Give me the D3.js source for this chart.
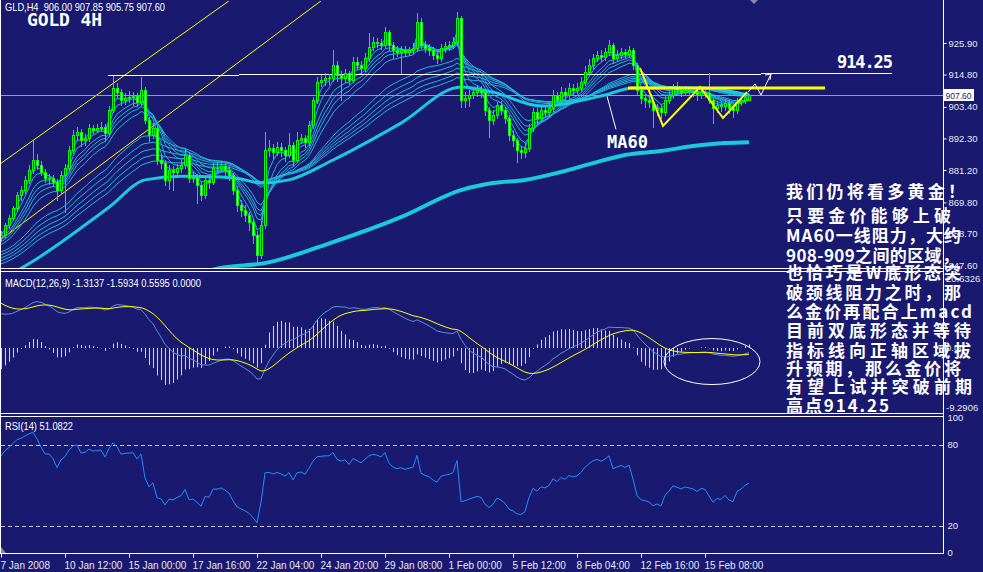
<!DOCTYPE html>
<html><head><meta charset="utf-8">
<script src="https://cdn.jsdelivr.net/npm/d3@7/dist/d3.min.js"></script>
<style>html,body{margin:0;padding:0;background:#191970;overflow:hidden}svg{display:block}</style>
</head><body>
<svg id="chart" width="983" height="572"></svg>
<script>
// ---------------- DATA (GOLD, H4 bars) ----------------
const opens=[857.5,858.3,861.8,864.3,867.8,872.4,874.1,877.7,881.2,884.7,
882.9,880.5,878.4,878.4,877.0,874.1,879.4,881.9,888.2,893.5,
894.6,891.7,892.5,896.0,895.3,896.0,896.3,894.2,902.3,910.1,
908.6,905.8,906.5,906.9,907.2,905.1,909.4,898.8,893.5,896.0,
884.7,883.6,877.7,881.2,880.5,881.9,882.9,886.5,878.4,878.7,
875.9,872.4,877.7,877.0,881.9,881.9,882.6,881.2,879.4,874.1,
868.9,867.1,865.3,862.9,858.3,851.3,861.8,888.2,888.9,887.5,
889.3,888.2,886.5,890.0,884.7,891.7,892.5,891.0,897.0,905.8,
912.2,912.9,913.6,913.6,918.2,914.6,913.6,915.3,912.9,919.2,
918.2,917.1,920.6,924.5,926.3,925.9,925.2,929.8,925.2,923.4,
922.7,923.4,922.7,923.4,924.1,933.3,925.2,924.1,923.4,921.7,
920.6,924.1,924.8,925.2,926.3,934.7,905.8,906.5,907.6,908.6,
909.4,908.6,902.3,898.8,900.5,904.1,902.3,899.5,893.5,891.7,
888.2,887.5,888.9,896.0,901.6,899.5,902.3,901.6,903.0,907.6,
905.8,908.6,907.6,910.1,909.4,910.1,912.2,915.7,918.2,920.6,
921.7,921.0,922.7,925.2,920.6,921.7,922.7,922.0,923.4,918.2,
909.4,906.5,905.8,905.1,902.3,903.0,901.6,905.8,907.6,910.1,
909.4,908.6,909.4,909.0,908.6,907.6,908.6,908.3,905.8,903.0,
904.1,903.7,904.8,903.0,902.3,905.1,905.8,906.0];
const highs=[859.6,862.5,865.4,868.6,873.5,875.6,878.9,883.0,891.7,886.8,
884.3,881.6,879.8,879.6,878.0,880.7,883.2,889.8,895.3,896.4,
895.6,894.0,897.4,897.2,897.5,898.1,897.4,903.6,914.2,911.7,
909.6,908.3,909.0,908.6,908.4,913.9,910.3,899.9,897.8,897.0,
886.4,884.6,882.8,882.6,883.2,884.6,889.0,887.4,880.4,879.9,
877.0,879.0,879.3,883.5,883.7,884.2,883.6,882.5,880.3,875.4,
870.7,868.8,866.5,864.0,859.6,863.2,894.5,891.8,890.3,891.1,
890.6,889.3,894.2,891.0,894.5,893.9,893.6,898.4,907.0,913.9,
914.6,915.3,915.1,923.4,919.4,916.0,916.9,916.1,920.8,920.9,
919.5,922.3,929.4,927.9,927.6,927.3,931.4,930.6,926.4,924.9,
925.0,924.8,924.6,925.9,936.5,934.6,926.6,925.5,924.5,923.0,
925.4,926.2,926.6,928.0,936.8,935.5,908.6,909.2,910.4,911.1,
910.8,909.6,903.4,902.2,905.3,905.6,903.4,900.4,894.8,892.6,
889.8,890.6,897.5,903.1,902.9,903.9,904.0,904.6,909.3,908.7,
910.4,909.9,911.9,911.4,911.8,914.1,917.8,920.3,922.2,923.2,
923.3,924.2,927.0,926.0,923.6,924.0,923.9,924.9,924.3,919.0,
910.6,908.0,907.1,906.0,904.4,904.2,907.2,909.2,911.6,912.2,
910.8,910.9,910.6,910.3,909.6,910.0,909.9,915.3,906.7,905.6,
905.5,906.2,905.9,904.0,906.4,907.0,907.9,907.85];
const lows=[856.6,857.6,860.9,863.5,866.9,870.8,873.0,876.5,880.1,881.6,
879.3,877.0,876.3,875.5,870.6,872.9,866.3,880.9,887.2,891.9,
889.6,889.9,891.5,894.1,894.4,894.8,891.5,893.3,901.5,906.9,
903.9,904.4,905.2,904.1,903.6,904.0,897.6,891.3,892.4,883.2,
882.0,875.8,874.5,874.1,879.2,880.6,881.8,876.8,876.9,869.6,
870.6,871.3,874.8,876.1,880.4,880.8,879.5,877.6,872.6,866.8,
865.0,863.3,860.2,855.6,848.8,850.2,860.9,886.1,885.4,886.3,
886.0,884.2,885.6,882.6,883.9,890.6,889.4,890.1,895.9,904.7,
910.8,911.2,911.5,912.5,912.6,905.8,912.1,911.3,912.0,916.6,
915.4,916.2,919.6,923.5,924.6,923.9,924.4,923.5,920.6,921.3,
915.3,921.2,921.6,922.3,923.0,924.0,922.6,921.8,920.3,918.8,
919.5,922.9,923.6,924.2,925.3,903.4,903.3,903.7,906.4,907.3,
906.9,900.6,892.8,897.3,899.4,900.8,897.6,891.8,889.7,884.0,
885.3,885.8,887.8,894.9,897.8,898.3,899.9,900.3,902.1,903.8,
904.7,905.9,906.5,907.9,908.3,909.0,911.0,914.5,916.9,919.4,
919.6,920.0,921.6,918.7,919.4,920.5,920.8,920.9,916.7,907.6,
904.6,903.5,903.2,896.3,900.6,899.5,900.5,904.6,906.6,907.8,
907.2,907.5,907.7,907.1,906.0,906.5,906.8,904.6,897.7,901.6,
901.9,902.4,901.2,899.8,901.4,904.0,904.9,905.75];
const closes=[858.3,861.8,864.3,867.8,872.4,874.1,877.7,881.2,884.7,882.9,
880.5,878.4,878.4,877.0,874.1,879.4,881.9,888.2,893.5,894.6,
891.7,892.5,896.0,895.3,896.0,896.3,894.2,902.3,910.1,908.6,
905.8,906.5,906.9,907.2,905.1,909.4,898.8,893.5,896.0,884.7,
883.6,877.7,881.2,880.5,881.9,882.9,886.5,878.4,878.7,875.9,
872.4,877.7,877.0,881.9,881.9,882.6,881.2,879.4,874.1,868.9,
867.1,865.3,862.9,858.3,851.3,861.8,888.2,888.9,887.5,889.3,
888.2,886.5,890.0,884.7,891.7,892.5,891.0,897.0,905.8,912.2,
912.9,913.6,913.6,918.2,914.6,913.6,915.3,912.9,919.2,918.2,
917.1,920.6,924.5,926.3,925.9,925.2,929.8,925.2,923.4,922.7,
923.4,922.7,923.4,924.1,933.3,925.2,924.1,923.4,921.7,920.6,
924.1,924.8,925.2,926.3,934.7,905.8,906.5,907.6,908.6,909.4,
908.6,902.3,898.8,900.5,904.1,902.3,899.5,893.5,891.7,888.2,
887.5,888.9,896.0,901.6,899.5,902.3,901.6,903.0,907.6,905.8,
908.6,907.6,910.1,909.4,910.1,912.2,915.7,918.2,920.6,921.7,
921.0,922.7,925.2,920.6,921.7,922.7,922.0,923.4,918.2,909.4,
906.5,905.8,905.1,902.3,903.0,901.6,905.8,907.6,910.1,909.4,
908.6,909.4,909.0,908.6,907.6,908.6,908.3,905.8,903.0,904.1,
903.7,904.8,903.0,902.3,905.1,905.8,906.9,907.6];

const priceTicks=[925.90,914.80,903.40,892.30,881.20,869.80,858.70,847.60];
const lastPrice=907.60;
const xTickBars=[0,16,32,48,64,80,96,112,128,144,160,176];
const xTickLabels=["7 Jan 2008","10 Jan 12:00","15 Jan 00:00","17 Jan 16:00","22 Jan 04:00","24 Jan 20:00","29 Jan 08:00","1 Feb 00:00","5 Feb 12:00","8 Feb 04:00","12 Feb 16:00","15 Feb 08:00"];

// moving averages: ribbon EMA periods + their values at the left edge
const emaPeriods=[3,5,8,10,12,15,30,35,40,45,50];
const emaSeeds=[859.0,858.3,857.2,856.5,855.5,854.4,851.9,850.9,849.8,848.8,847.7];
const ma60Bars=[0,5,27,36,45,55,60,65,72,83,100,115,123,135,151,158,175,187];
const ma60Vals=[843.0,846.6,868.1,877.7,879.0,878.7,878.0,876.6,877.7,884.7,897.7,910.4,908.6,903.7,907.6,910.1,910.1,907.6];
const longMaBars=[50,55,66,83,100,115,123,131,140,148,156,165,173,181,187];
const longMaVals=[845.0,846.7,848.4,855.8,864.6,874.1,876.6,877.7,880.5,883.6,886.5,887.9,889.6,890.7,891.0];

// MACD(12,26,9): EMA values at the left edge, histogram = 2*(MACD - signal)
const macdSeeds={ema12:855.3,ema26:847.0,signal:11.0};
const macdLabels=["20.6326","0.00","-9.2906"];
const rsiSeeds={gain:1.2,loss:0.5};
const rsiLevels=[80,20];
const rsiTicks=[100,80,20,0];

// annotations in (bar, price)
const channelUpper=[[-0.25,883.3],[57.25,941.0]];
const channelLower=[[-0.25,856.5],[80.25,941.0]];
const resistSegs=[[26.75,59.5,914.5],[59.5,190,915.1],[190,222.75,915.5]];
const neckline=[[156.75,910.1],[206,910.1]];
const wPattern=[[159.75,917.1],[165.5,896.7],[174.75,910.4],[180.5,899.5],[186.5,908.6]];
const arrowPath=[[186.75,908.6],[188.5,911.5],[190,907.6],[192.5,915.0]];
const arrowHead=[[191,914.6],[192.5,915.0],[192.25,912.9]];
const ma60Pointer=[[151.5,907.2],[153.75,895.5]];
const macdEllipse={bar:177.75,value:-3.2,rx:48,ry:23};

const noteLines=["我们仍将看多黄金！","只要金价能够上破","MA60一线阻力，大约","908-909之间的区域，","也恰巧是W底形态突","破颈线阻力之时，那","么金价再配合上macd","目前双底形态并等待","指标线向正轴区域拔","升预期，那么金价将","有望上试并突破前期","高点914.25"];
const noteWidths=[179,165,175,173,175,175,186,185,185,175,186,103];

// ---------------- SETUP ----------------
const W=983,H=572,RIGHT=943;
const BG="#191970",LIME="#00ff00",THIN="#22b4d8",THICK="#19c9dd";
const svg=d3.select("#chart");
svg.append("rect").attr("width",W).attr("height",H).attr("fill",BG);
const P={main:[1,268],macd:[272,413],rsi:[417,553]};
const x=d3.scaleLinear().domain([0,235]).range([1,941]);
const yMain=d3.scaleLinear().domain([847.6,925.9]).range([265.4,43.0]);
const yMacd=d3.scaleLinear().domain([-14,16]).range([408,279]);
const yRsi=d3.scaleLinear().domain([0,100]).range([552.7,417.7]);
const defs=svg.append("defs");
Object.entries(P).forEach(([k,[t,b]])=>{
  defs.append("clipPath").attr("id","clip-"+k).append("rect").attr("x",1).attr("y",t).attr("width",RIGHT-1).attr("height",b-t);
});
const gMain=svg.append("g").attr("clip-path","url(#clip-main)");
const gMacd=svg.append("g").attr("clip-path","url(#clip-macd)");
const gRsi=svg.append("g").attr("clip-path","url(#clip-rsi)");
const N=closes.length, idx=d3.range(N);
const ln=d3.line().x(d=>x(d[0])).y(d=>yMain(d[1]));

// ---------------- MAIN PANEL ----------------
[channelUpper,channelLower].forEach(l=>{
  gMain.append("path").attr("d",ln(l)).attr("stroke","#ffff00").attr("stroke-width",1).attr("fill","none");
});
gMain.append("path").datum(longMaBars.map((b,i)=>[b,longMaVals[i]]))
 .attr("d",d3.line().curve(d3.curveMonotoneX).x(d=>x(d[0])).y(d=>yMain(d[1])))
 .attr("stroke",THICK).attr("stroke-width",4).attr("fill","none");
emaPeriods.forEach((p,k)=>{
  const a=2/(p+1);let e=emaSeeds[k];
  const vals=closes.map(c=>(e=e+(c-e)*a));
  gMain.append("path").datum(vals).attr("d",d3.line().x((d,i)=>x(i)).y(d=>yMain(d)))
   .attr("stroke",THIN).attr("stroke-width",1).attr("fill","none");
});
gMain.append("path").datum(ma60Bars.map((b,i)=>[b,ma60Vals[i]]))
 .attr("d",d3.line().curve(d3.curveMonotoneX).x(d=>x(d[0])).y(d=>yMain(d[1])))
 .attr("stroke",THICK).attr("stroke-width",3).attr("fill","none");
const lpY=Math.round(yMain(lastPrice))+0.5;
gMain.append("line").attr("x1",1).attr("x2",RIGHT).attr("y1",lpY).attr("y2",lpY).attr("stroke","#9c9cac");
resistSegs.forEach(s=>{
  const yy=Math.round(yMain(s[2]))+0.5;
  gMain.append("line").attr("x1",x(s[0])).attr("x2",x(s[1])).attr("y1",yy).attr("y2",yy).attr("stroke","#ffffff");
});
const cg=gMain.append("g");
idx.forEach(i=>{
  const cx=Math.round(x(i));
  const o=opens[i],c=closes[i];
  const top=Math.round(yMain(Math.max(o,c))),bot=Math.round(yMain(Math.min(o,c)));
  cg.append("line").attr("x1",cx+0.5).attr("x2",cx+0.5).attr("y1",Math.round(yMain(highs[i]))).attr("y2",Math.round(yMain(lows[i]))+1).attr("stroke",LIME);
  cg.append("rect").attr("x",cx-1).attr("y",top).attr("width",3).attr("height",Math.max(1,bot-top+1)).attr("fill",LIME);
  if(bot-top>=2) cg.append("rect").attr("x",cx).attr("y",top+1).attr("width",1).attr("height",bot-top-1).attr("fill",c>=o?BG:"#ffffff");
});
gMain.append("path").attr("d",ln(neckline)).attr("stroke","#ffff00").attr("stroke-width",3);
gMain.append("path").attr("d",ln(wPattern)).attr("stroke","#ffff00").attr("stroke-width",2).attr("fill","none");
gMain.append("path").attr("d",ln(arrowPath)).attr("stroke","#ffffff").attr("stroke-width",1).attr("fill","none");
gMain.append("path").attr("d",ln(arrowHead)).attr("stroke","#ffffff").attr("stroke-width",1).attr("fill","none");
gMain.append("path").attr("d",ln(ma60Pointer)).attr("stroke","#ffffff").attr("stroke-width",1).attr("fill","none");

// ---------------- MACD ----------------
(function(){
  let e12=macdSeeds.ema12,e26=macdSeeds.ema26,sig=macdSeeds.signal;
  const main=[],signal=[],hist=[];
  closes.forEach(c=>{e12+=(c-e12)*2/13;e26+=(c-e26)*2/27;const m=e12-e26;main.push(m);sig+=(m-sig)*0.2;signal.push(sig);hist.push(2*(m-sig));});
  const z=Math.round(yMacd(0));
  idx.forEach(i=>{
    const cx=Math.round(x(i))+0.5;
    gMacd.append("line").attr("x1",cx).attr("x2",cx).attr("y1",z).attr("y2",yMacd(hist[i])).attr("stroke","#d4d4dc");
  });
  const ml=d3.line().x((d,i)=>x(i)).y(d=>yMacd(d));
  gMacd.append("path").datum(main).attr("d",ml).attr("stroke","#5b8fd6").attr("fill","none");
  gMacd.append("path").datum(signal).attr("d",ml).attr("stroke","#ffff00").attr("fill","none");
  gMacd.append("ellipse").attr("cx",x(macdEllipse.bar)).attr("cy",yMacd(macdEllipse.value)).attr("rx",macdEllipse.rx).attr("ry",macdEllipse.ry).attr("stroke","#ffffff").attr("fill","none");
})();

// ---------------- RSI ----------------
(function(){
  let g=rsiSeeds.gain,l=rsiSeeds.loss;const r=[];
  closes.forEach((c,i)=>{const d=i?c-closes[i-1]:c-opens[0];g=(g*13+Math.max(d,0))/14;l=(l*13+Math.max(-d,0))/14;r.push(100-100/(1+g/l));});
  rsiLevels.forEach(v=>{const yy=Math.round(yRsi(v))+0.5;gRsi.append("line").attr("x1",1).attr("x2",RIGHT).attr("y1",yy).attr("y2",yy).attr("stroke","#c8c8d0").attr("stroke-dasharray","4,3");});
  gRsi.append("path").datum(r).attr("d",d3.line().x((d,i)=>x(i)).y(d=>yRsi(d))).attr("stroke","#1e90ff").attr("fill","none");
})();

// ---------------- FRAMES & AXES ----------------
const fr=svg.append("g").attr("stroke","#ffffff").attr("stroke-width",1);
[268.5,271.5,413.5,416.5,553.5].forEach(yy=>fr.append("line").attr("x1",0).attr("x2",RIGHT+0.5).attr("y1",yy).attr("y2",yy));
fr.append("line").attr("x1",0.5).attr("x2",0.5).attr("y1",0).attr("y2",553.5);
fr.append("line").attr("x1",RIGHT+0.5).attr("x2",RIGHT+0.5).attr("y1",0).attr("y2",553.5);

const font="'Liberation Sans',Arial,sans-serif";
function styleAxis(g){g.select(".domain").remove();g.selectAll("line").attr("stroke","#ffffff");g.selectAll("text").attr("fill","#e8e8f0").style("font-family",font).style("font-size","9.5px");}
svg.append("g").attr("transform",`translate(${RIGHT+0.5},0)`)
 .call(d3.axisRight(yMain).tickValues(priceTicks).tickSize(3).tickPadding(2).tickFormat(d3.format(".2f"))).call(styleAxis);
const ly=Math.round(yMain(lastPrice));
svg.append("rect").attr("x",RIGHT+1).attr("y",ly-6).attr("width",30).attr("height",12).attr("fill","#ffffff");
svg.append("text").attr("x",RIGHT+2.5).attr("y",ly+3.5).text(d3.format(".2f")(lastPrice)).attr("fill",BG).style("font-family",font).style("font-size","9.5px").attr("textLength",26).attr("lengthAdjust","spacingAndGlyphs");
[[macdLabels[0],yMacd.range()[1]+3],[macdLabels[1],yMacd(0)+3],[macdLabels[2],yMacd.range()[0]+3]].forEach(([t,yy])=>{
  svg.append("text").attr("x",RIGHT+3).attr("y",yy).text(t).attr("fill","#e8e8f0").style("font-family",font).style("font-size","9.5px");
});
svg.append("g").attr("transform",`translate(${RIGHT+0.5},0)`)
 .call(d3.axisRight(yRsi).tickValues(rsiTicks).tickSize(0).tickPadding(4)).call(styleAxis);
const xa=svg.append("g").attr("transform","translate(0,553.5)")
 .call(d3.axisBottom(x).tickValues(xTickBars).tickSize(4).tickFormat((d,i)=>xTickLabels[i])).call(styleAxis);
xa.selectAll("text").attr("text-anchor","start").attr("dx","-0.1em").attr("y",8).style("font-size","10px");

svg.append("text").attr("x",5).attr("y",11).text("GLD,H4  906.00 907.85 905.75 907.60").attr("fill","#ffffff").style("font-family",font).style("font-size","10.5px").attr("textLength",160).attr("lengthAdjust","spacingAndGlyphs").attr("xml:space","preserve");
svg.append("text").attr("x",5).attr("y",287).text("MACD(12,26,9) -1.3137 -1.5934 0.5595 0.0000").attr("fill","#ffffff").style("font-family",font).style("font-size","10.5px").attr("textLength",196).attr("lengthAdjust","spacingAndGlyphs");
svg.append("text").attr("x",5).attr("y",430).text("RSI(14) 51.0822").attr("fill","#ffffff").style("font-family",font).style("font-size","10.5px").attr("textLength",68).attr("lengthAdjust","spacingAndGlyphs");

const mono="'DejaVu Sans Mono',monospace";
svg.append("text").attr("x",27).attr("y",26).text("GOLD 4H").attr("fill","#ffffff").style("font-family",mono).style("font-weight","bold").style("font-size","18px").attr("textLength",75).attr("xml:space","preserve");
svg.append("text").attr("x",837).attr("y",68).text("914.25").attr("fill","#ffffff").style("font-family",mono).style("font-weight","bold").style("font-size","17px").attr("textLength",56);
svg.append("text").attr("x",607).attr("y",148).text("MA60").attr("fill","#ffffff").style("font-family",mono).style("font-weight","bold").style("font-size","17px").attr("textLength",41);

const baselines=[198,222,242,262,279,299,318,337,357,375,393,412];
noteLines.forEach((t,i)=>{
  svg.append("text").attr("x",786).attr("y",baselines[i]).text(t).attr("fill","#ffffff")
   .style("font-family","'Noto Sans CJK SC',sans-serif").style("font-weight","bold").style("font-size","17px")
   .attr("textLength",noteWidths[i]).attr("lengthAdjust","spacing");
});
svg.append("path").attr("d","M1,547 L1,553 L6,553 Z").attr("fill","#8a8a9a");
svg.append("path").attr("d","M750,0 L758,0 L754,4 Z").attr("fill","#8a8a9a");
</script>
</body></html>
